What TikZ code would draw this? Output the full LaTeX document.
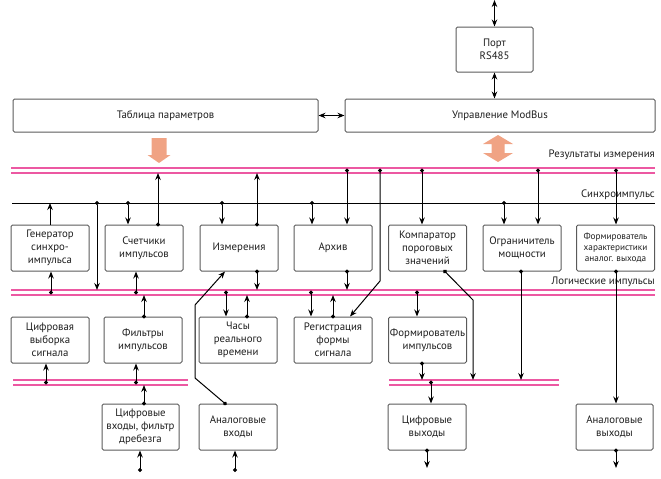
\documentclass[tikz,border=0pt]{standalone}
\usepackage{fontspec}
\setmainfont{PT Sans}
\usetikzlibrary{arrows.meta}
\definecolor{boxgray}{RGB}{90,90,90}
\definecolor{txtgray}{RGB}{30,30,30}
\definecolor{buspink}{RGB}{236,88,162}
\definecolor{fatorange}{RGB}{240,163,132}

\begin{document}
\begin{tikzpicture}[x=1pt, y=-1pt, font=\fontsize{10.8}{13}\selectfont,
    blk/.style={rectangle, draw=boxgray, line width=1pt, rounded corners=1.5pt, minimum width=78pt, minimum height=46pt, inner sep=1pt, align=center, text=txtgray},
    wide/.style={blk, minimum height=33pt},
    bus/.style={draw=buspink, line width=1.7pt, double=white, double distance=3.2pt},
    link/.style={line width=1pt, -{Stealth[length=7pt, width=5.5pt]}},
    dlink/.style={line width=1pt, {Circle[length=4pt]}-{Stealth[length=7pt, width=5.5pt]}, shorten <=-2pt},
    both/.style={line width=1pt, {Stealth[length=7pt, width=5.5pt]}-{Stealth[length=7pt, width=5.5pt]}},
    buslabel/.style={anchor=east, inner sep=0pt, text=txtgray}]
  \useasboundingbox (0,0) rectangle (661,479);

  % Buses
  \coordinate (res) at (11,170.5);
  \coordinate (resB) at (11,173);
  \coordinate (sync) at (12,203);
  \coordinate (logT) at (11,290);
  \coordinate (logC) at (11,292.5);
  \coordinate (logB) at (11,295);
  \coordinate (lowT) at (13,380);
  \coordinate (lowC) at (13,382.5);
  \coordinate (lowB) at (13,385);
  \draw[bus] (res) -- (res -| 655,0);
  \draw[line width=1pt] (sync) -- (sync -| 655,0);
  \draw[bus] (logC) -- (logC -| 655,0);
  \draw[bus] (lowC) -- (lowC -| 188,0);
  \draw[bus] (lowC -| 389,0) -- (lowC -| 559,0);

  \node[buslabel] (reslabel) at (655,155) {Результаты измерения};
  \node[buslabel] (synclabel) at (655,195) {Синхроимпульс};
  \node[buslabel] (loglabel) at (655,282) {Логические импульсы};

  % Nodes
  \node (port) at (494.5,49.5) [blk, minimum width=77pt, minimum height=45pt] {Порт\\RS485};
  \node (table) at (165.5,115.5) [wide, minimum width=305pt] {Таблица параметров};
  \node (modbus) at (500,115.5) [wide, minimum width=310pt] {Управление ModBus};

  \node (gen) at (50,248) [blk] {Генератор\\синхро-\\импульса};
  \node (cnt) at (144,248) [blk] {Счетчики\\импульсов};
  \node (meas) at (239,248) [blk] {Измерения};
  \node (arch) at (333,248) [blk] {Архив};
  \node (comp) at (427.5,248) [blk] {Компаратор\\пороговых\\значений};
  \node (lim) at (522,248) [blk] {Ограничитель\\мощности};
  \node (afor) at (615.5,248) [blk, font=\fontsize{9.2}{11}\selectfont] {Формирователь\\характеристики\\аналог. выхода};

  \node (dsamp) at (50,340) [blk] {Цифровая\\выборка\\сигнала};
  \node (filt) at (143,340) [blk] {Фильтры\\импульсов};
  \node (clock) at (238,340) [blk] {Часы\\реального\\времени};
  \node (reg) at (333,340) [blk] {Регистрация\\формы\\сигнала};
  \node (pform) at (427.5,340) [blk] {Формирователь\\импульсов};

  \node (din) at (140.5,427) [blk, minimum width=77pt] {Цифровые\\входы, фильтр\\дребезга};
  \node (ain) at (238,427) [blk] {Аналоговые\\входы};
  \node (dout) at (427,427) [blk] {Цифровые\\выходы};
  \node (aout) at (614.5,427) [blk, minimum width=77pt] {Аналоговые\\выходы};

  \coordinate (rsline) at (494.5,0);
  \coordinate (dinpin) at (140,470);
  \coordinate (ainpin) at (235,470);
  \coordinate (doutpin) at (427,468);
  \coordinate (aoutpin) at (616,468);

  % Fat arrows to the results bus
  \fill[fatorange] (151.5,138) -- (166.5,138) -- (166.5,155) -- (170.5,155) -- (159,163) -- (147.5,155) -- (151.5,155) -- cycle;
  \fill[fatorange] (498,135) -- (513,144) -- (504.5,144) -- (504.5,153) -- (513,153) -- (498,162) -- (483,153) -- (491.5,153) -- (491.5,144) -- (483,144) -- cycle;

  % Edges
  \draw[both] (rsline) -- (port.north);
  \draw[both] (port.south) -- (modbus.north -| port.south);
  \draw[both] (table.east) -- (modbus.west);

  \draw[link] (gen.north) -- (sync -| gen.north);
  \draw[dlink] (logC -| 51,0) -- (gen.south -| 51,0);
  \draw[dlink] (sync -| 97,0) -- (logT -| 97,0);

  \draw[dlink] (sync -| 128,0) -- (cnt.north -| 128,0);
  \draw[dlink] (cnt.north -| 158,0) -- (resB -| 158,0);
  \draw[dlink] (logC -| 136,0) -- (cnt.south -| 136,0);

  \draw[dlink] (sync -| 222,0) -- (meas.north -| 222,0);
  \draw[dlink] (meas.north -| 257,0) -- (resB -| 257,0);
  \draw[dlink] (meas.south -| 257,0) -- (logT -| 257,0);
  \draw[dlink] (ain.north -| 225,0) -- (195,378) -- (195,305) -- (meas.south -| 225,0);

  \draw[dlink] (sync -| 312,0) -- (arch.north -| 312,0);
  \draw[dlink] (res -| 347,0) -- (arch.north -| 347,0);
  \draw[dlink] (arch.south -| 347,0) -- (logT -| 347,0);

  \draw[dlink] (res -| 422,0) -- (comp.north -| 422,0);
  \draw[dlink] (comp.south -| 445,0) -- (473,300) -- (lowT -| 473,0);

  \draw[dlink] (sync -| 504,0) -- (lim.north -| 504,0);
  \draw[dlink] (res -| 538,0) -- (lim.north -| 538,0);
  \draw[dlink] (lim.south -| 521,0) -- (lowT -| 521,0);

  \draw[dlink] (res -| 616,0) -- (afor.north -| 616,0);
  \draw[dlink] (afor.south -| 616,0) -- (aout.north -| 616,0);

  \draw[dlink] (filt.north -| 144,0) -- (logB -| 144,0);
  \draw[dlink] (lowC -| 136,0) -- (filt.south -| 136,0);
  \draw[dlink] (lowC -| 46,0) -- (dsamp.south -| 46,0);
  \draw[dlink] (din.north -| 144,0) -- (lowB -| 144,0);
  \draw[dlink] (dinpin) -- (din.south -| dinpin);
  \draw[dlink] (ainpin) -- (ain.south -| ainpin);

  \draw[dlink] (logC -| 226,0) -- (clock.north -| 226,0);
  \draw[dlink] (clock.north -| 247,0) -- (logB -| 247,0);

  \draw[dlink] (logC -| 311,0) -- (reg.north -| 311,0);
  \draw[dlink] (reg.north -| 333,0) -- (logB -| 333,0);
  \draw[dlink] (res -| 380,0) -- (380,281) -- (reg.north -| 350,0);

  \draw[dlink] (logC -| 417,0) -- (pform.north -| 417,0);
  \draw[dlink] (pform.south -| 422,0) -- (lowT -| 422,0);
  \draw[dlink] (lowC -| 431,0) -- (dout.north -| 431,0);
  \draw[dlink] (dout.south) -- (doutpin);
  \draw[dlink] (aout.south -| aoutpin) -- (aoutpin);
\end{tikzpicture}
\end{document}
